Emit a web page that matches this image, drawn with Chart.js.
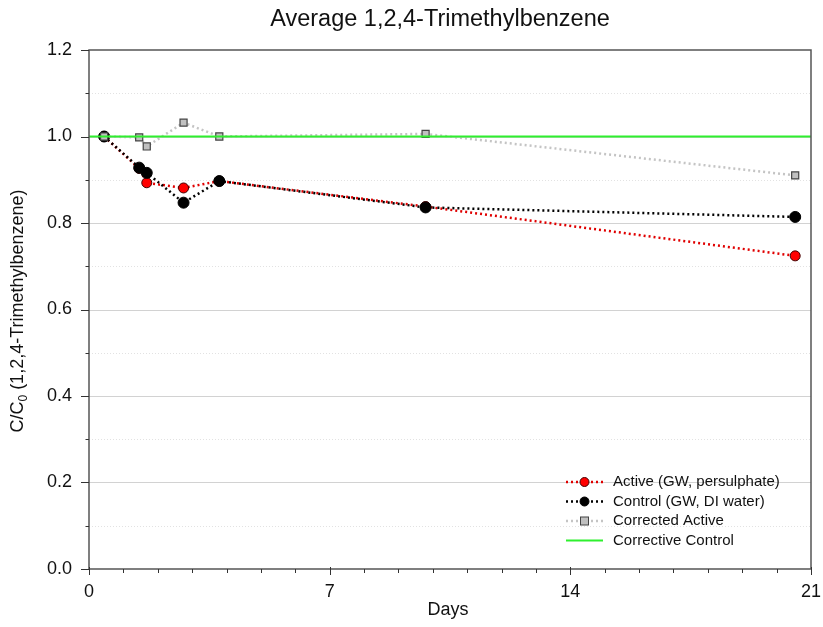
<!DOCTYPE html>
<html>
<head>
<meta charset="utf-8">
<script src="https://cdn.jsdelivr.net/npm/chart.js@4.4.1/dist/chart.umd.min.js"></script>
<style>
  body { margin: 0; background: #fff; }
  #wrap { width: 823px; height: 627px; }
</style>
</head>
<body>
<div id="wrap"><canvas id="graphCanvas" width="823" height="627"></canvas></div>
<script>
// values
let days = [0.44, 1.46, 1.68, 2.75, 3.79, 9.79, 20.54];
let active_vals = [1.0, 0.926, 0.893, 0.881, 0.897, 0.838, 0.724];
let control_vals = [1.0, 0.928, 0.916, 0.847, 0.897, 0.836, 0.814];
let corrected_vals = [1.0, 0.998, 0.977, 1.032, 1.0, 1.006, 0.910];
let corrective_days = [0, 21];
let corrective_vals = [1.0, 1.0];

let series_names = ["Active (GW, persulphate)", "Control (GW, DI water)", "Corrected Active", "Corrective Control"];
let x_labels = [0, 7, 14, 21];
let y_labels = [0, 0.2, 0.4, 0.6, 0.8, 1.0, 1.2];

const fontFam = "'Liberation Sans', Arial, sans-serif";
const ctx = document.getElementById("graphCanvas").getContext("2d");

function toPoints(xs, ys) {
    return xs.map((x, i) => ({x: x, y: ys[i]}));
}

// grid, tick marks, frame, titles and the legend
const decorPlugin = {
    id: "decor",
    beforeDatasetsDraw(chart) {
        const c = chart.ctx;
        const a = chart.chartArea;
        const ys = chart.scales.y;
        c.save();
        for (let i = 1; i < 12; i++) {
            const py = Math.round(ys.getPixelForValue(i / 10)) + 0.5;
            c.beginPath();
            if (i % 2 == 0) {
                c.strokeStyle = "#d2d2d2";
                c.setLineDash([]);
            } else {
                c.strokeStyle = "#e2e2e2";
                c.setLineDash([1, 2]);
            }
            c.lineWidth = 1;
            c.moveTo(a.left, py);
            c.lineTo(a.right, py);
            c.stroke();
        }
        c.restore();
    },
    afterDatasetsDraw(chart) {
        const c = chart.ctx;
        const a = chart.chartArea;
        const xs = chart.scales.x;
        const ys = chart.scales.y;
        c.save();
        c.setLineDash([]);
        // frame
        c.lineWidth = 1.5;
        c.strokeStyle = "#555";
        c.strokeRect(a.left, a.top, a.right - a.left, a.bottom - a.top);

        // y ticks
        c.lineWidth = 1;
        c.strokeStyle = "#333";
        for (let i = 0; i <= 12; i++) {
            const py = Math.round(ys.getPixelForValue(i / 10)) + 0.5;
            const len = (i % 2 == 0) ? 8 : 3.5;
            c.beginPath();
            c.moveTo(a.left - len, py);
            c.lineTo(a.left, py);
            c.stroke();
        }
        // x ticks
        for (let d = 0; d <= 21; d++) {
            const px = Math.round(xs.getPixelForValue(d)) + 0.5;
            c.beginPath();
            if (d % 7 == 0) {
                c.moveTo(px, a.bottom - 2);
                c.lineTo(px, a.bottom + 6);
            } else {
                c.moveTo(px, a.bottom);
                c.lineTo(px, a.bottom + 4);
            }
            c.stroke();
        }

        // titles
        c.fillStyle = "#111";
        c.textAlign = "center";
        c.textBaseline = "middle";
        c.font = "23.5px " + fontFam;
        c.fillText("Average 1,2,4-Trimethylbenzene", 440, 20);
        c.font = "18px " + fontFam;
        c.fillText("Days", 448, 610);

        // y axis title with subscript
        const t1 = "C/C", t2 = "0", t3 = " (1,2,4-Trimethylbenzene)";
        c.font = "18px " + fontFam;
        const w1 = c.measureText(t1).width;
        const w3 = c.measureText(t3).width;
        c.font = "12px " + fontFam;
        const w2 = c.measureText(t2).width;
        const total = w1 + w2 + w3;
        c.translate(18, 311);
        c.rotate(-Math.PI / 2);
        c.textAlign = "left";
        let sx = -total / 2;
        c.font = "18px " + fontFam;
        c.fillText(t1, sx, 0);
        sx += w1;
        c.font = "12px " + fontFam;
        c.fillText(t2, sx, 6);
        sx += w2;
        c.font = "18px " + fontFam;
        c.fillText(t3, sx, 0);
        c.restore();

        // legend
        c.save();
        const lx = a.right - 245;
        const lx2 = a.right - 208;
        const rows = [a.bottom - 87, a.bottom - 67.5, a.bottom - 48, a.bottom - 28.5];
        const ds = chart.data.datasets;
        for (let i = 0; i < 4; i++) {
            const d = ds[i];
            const ry = rows[i];
            c.beginPath();
            c.lineWidth = d.borderWidth;
            c.strokeStyle = d.borderColor;
            c.setLineDash(d.borderDash || []);
            c.moveTo(lx, ry);
            c.lineTo(lx2, ry);
            c.stroke();
            c.setLineDash([]);
            const mx = (lx + lx2) / 2;
            if (d.pointStyle == "circle" && d.pointRadius > 0) {
                c.beginPath();
                c.arc(mx, ry, 4.5, 0, Math.PI * 2);
                c.fillStyle = d.pointBackgroundColor;
                c.fill();
                c.lineWidth = 1;
                c.strokeStyle = d.pointBorderColor;
                c.stroke();
            } else if (d.pointStyle == "rect") {
                c.fillStyle = d.pointBackgroundColor;
                c.fillRect(mx - 4, ry - 4, 8, 8);
                c.lineWidth = 1;
                c.strokeStyle = d.pointBorderColor;
                c.strokeRect(mx - 4, ry - 4, 8, 8);
            }
            c.fillStyle = "#111";
            c.font = "15px " + fontFam;
            c.textAlign = "left";
            c.textBaseline = "middle";
            c.fillText(series_names[i], a.right - 198, ry);
        }
        c.restore();
    }
};

const chart = new Chart(ctx, {
    type: "scatter",
    data: {
        datasets: [
            {
                label: series_names[0],
                data: toPoints(days, active_vals),
                showLine: true,
                borderColor: "#e00000",
                borderWidth: 2.5,
                borderDash: [2, 3],
                pointStyle: "circle",
                pointRadius: 5,
                pointBackgroundColor: "#ff0000",
                pointBorderColor: "#400000",
                pointBorderWidth: 1,
                order: 4,
            },
            {
                label: series_names[1],
                data: toPoints(days, control_vals),
                showLine: true,
                borderColor: "#000000",
                borderWidth: 2.5,
                borderDash: [2, 3],
                pointStyle: "circle",
                pointRadius: 5.5,
                pointBackgroundColor: "#000000",
                pointBorderColor: "#000000",
                pointBorderWidth: 1,
                order: 3,
            },
            {
                label: series_names[2],
                data: toPoints(days, corrected_vals),
                showLine: true,
                borderColor: "#c4c4c4",
                borderWidth: 2.5,
                borderDash: [2, 3],
                pointStyle: "rect",
                pointRadius: 5,
                pointBackgroundColor: "#c0c0c0",
                pointBorderColor: "#444444",
                pointBorderWidth: 1.2,
                order: 2,
            },
            {
                label: series_names[3],
                data: toPoints(corrective_days, corrective_vals),
                showLine: true,
                borderColor: "#2ef02e",
                borderWidth: 1.8,
                pointStyle: "circle",
                pointRadius: 0,
                order: 1,
            },
        ],
    },
    options: {
        responsive: false,
        animation: false,
        layout: { padding: { top: 50, right: 12, left: 0, bottom: 0 } },
        plugins: {
            legend: { display: false },
            title: { display: false },
            tooltip: { enabled: false },
        },
        scales: {
            x: {
                type: "linear",
                min: 0,
                max: 21,
                grid: { display: false, drawTicks: false },
                border: { display: false },
                ticks: {
                    stepSize: 1,
                    autoSkip: false,
                    maxRotation: 0,
                    padding: 12,
                    color: "#111",
                    font: { family: fontFam, size: 18 },
                    callback: (v) => x_labels.includes(v) ? String(v) : "",
                },
                afterFit: (scale) => {
                    scale.height = 58;
                    scale.paddingLeft = 0;
                    scale.paddingRight = 0;
                },
            },
            y: {
                type: "linear",
                min: 0,
                max: 1.2,
                grid: { display: false, drawTicks: false },
                border: { display: false },
                ticks: {
                    stepSize: 0.1,
                    autoSkip: false,
                    padding: 17,
                    color: "#111",
                    font: { family: fontFam, size: 18 },
                    callback: (v) => {
                        let hit = y_labels.find((l) => Math.abs(l - v) < 1e-6);
                        return hit !== undefined ? hit.toFixed(1) : "";
                    },
                },
                afterFit: (scale) => {
                    scale.width = 89;
                    scale.paddingTop = 0;
                    scale.paddingBottom = 0;
                },
            },
        },
    },
    plugins: [decorPlugin],
});
</script>
</body>
</html>
